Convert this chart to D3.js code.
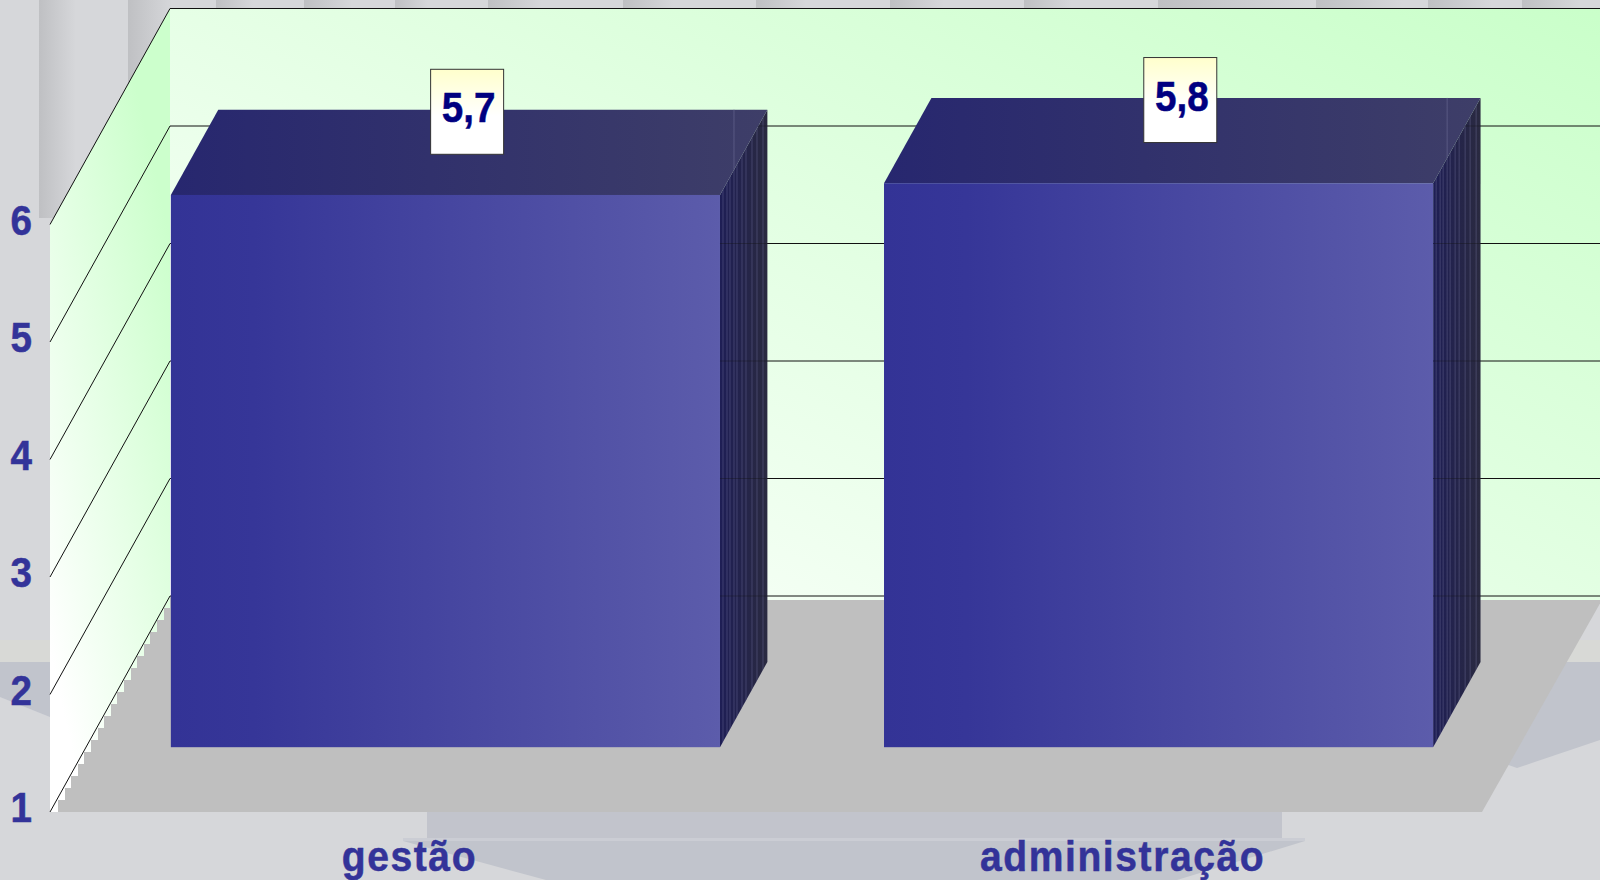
<!DOCTYPE html>
<html>
  <head>
    <meta charset="utf-8">
    <style>
      body { margin: 0; background: #d6d7da; }
      svg { display: block; }
      text { font-family: "Liberation Sans", Arial, sans-serif; font-weight: bold; }
      .tick-label { font-size: 42px; fill: #333399; stroke: #333399; stroke-width: 0.5; }
      .cat-label { font-size: 42px; fill: #333399; stroke: #333399; stroke-width: 0.5; letter-spacing: 1.7px; }
      .value-label { font-size: 42px; fill: #000080; stroke: #000080; stroke-width: 0.5; text-anchor: middle; }
      .grid { fill: none; stroke: #111; stroke-width: 1; }
    </style>
  </head>
  <body>
    <script src="https://d3js.org/d3.v7.min.js"></script>
    <script>
      // data
      var categories = ["gestão", "administração"];
      var values = [5.7, 5.8];
      var valueLabels = ["5,7", "5,8"];
      var yTicks = [1, 2, 3, 4, 5, 6];

      var width = 1600, height = 880;

      // 3d projection: depth 0 is the front of the floor, depth 1 the back wall
      var depthX = 120, depthY = 216;
      var barFront = 0.30, barBack = 0.695;

      var x = d3.scaleBand().domain(categories).range([50, 1482])
          .paddingInner(0.23).paddingOuter(0.119);
      var y = d3.scaleLinear().domain([1, 6]).range([812, 224.5]);

      function px(v, d) { return v + depthX * d; }
      function py(v, d) { return v - depthY * d; }

      var line = d3.line();

      var svg = d3.select("body").append("svg")
          .attr("width", width)
          .attr("height", height);
      var defs = svg.append("defs");

      function gradient(id, a, b, stops) {
          var g = defs.append("linearGradient").attr("id", id)
              .attr("gradientUnits", "userSpaceOnUse")
              .attr("x1", a[0]).attr("y1", a[1])
              .attr("x2", b[0]).attr("y2", b[1]);
          stops.forEach(function(s) {
              g.append("stop").attr("offset", s[0]).attr("stop-color", s[1]);
          });
      }

      // slide template behind the chart
      var bg = svg.append("g");
      bg.append("rect").attr("width", width).attr("height", height).attr("fill", "#d6d7da");

      var columns = [[39, 76, 218], [128, 172, 218], [216, 253, 8], [304, 352, 8], [395, 428, 8],
                     [488, 541, 8], [623, 673, 8], [756, 806, 8], [890, 944, 8], [1024, 1071, 8],
                     [1158, 1314, 8], [1316, 1403, 8], [1428, 1492, 8], [1522, 1580, 8]];
      columns.forEach(function(c, i) {
          gradient("col" + i, [c[0], 0], [c[1], 0], [[0, "#bfc0c3"], [1, "#d6d7da"]]);
          bg.append("rect").attr("x", c[0]).attr("width", c[1] - c[0]).attr("height", c[2])
              .attr("fill", "url(#col" + i + ")");
      });

      var blue = "#c1c4cc";
      bg.append("rect").attr("x", 0).attr("y", 640).attr("width", 50).attr("height", 22).attr("fill", "#d8d9d6");
      bg.append("path").attr("fill", blue)
          .attr("d", line([[0, 662], [50, 662], [50, 717], [0, 697]]) + "Z");
      bg.append("rect").attr("x", 1500).attr("y", 640).attr("width", 100).attr("height", 22).attr("fill", "#d8d9d6");
      bg.append("path").attr("fill", blue)
          .attr("d", line([[1500, 662], [1600, 662], [1600, 740], [1517, 768], [1500, 762]]) + "Z");
      bg.append("rect").attr("x", 427).attr("y", 812).attr("width", 855).attr("height", 27).attr("fill", "#c2c4cc");
      bg.append("rect").attr("x", 403).attr("y", 838).attr("width", 902).attr("height", 3).attr("fill", "#cbcdd4");
      bg.append("path").attr("fill", blue)
          .attr("d", line([[403, 841], [1305, 841], [1177, 880], [546, 880]]) + "Z");

      // walls
      gradient("backWall", [170, 596], [809, -774], [[0, "#ffffff"], [1, "#b8ffb8"]]);
      gradient("sideWall", [60, 698], [264, 652], [[0, "#ffffff"], [1, "#ccffcc"]]);

      var xL = x.range()[0], xR = x.range()[1];
      var yMin = y(yTicks[0]), yMax = y(yTicks[yTicks.length - 1]);

      svg.append("path").attr("fill", "url(#sideWall)")
          .attr("d", line([[xL, yMax], [px(xL, 1), py(yMax, 1)], [px(xL, 1), yMin - 150], [xL + 30, yMin], [xL, yMin]]) + "Z");
      svg.append("path").attr("fill", "url(#backWall)")
          .attr("d", line([[px(xL, 1), py(yMax, 1)], [width, py(yMax, 1)], [width, py(yMin, 1) + 4], [px(xL, 1), py(yMin, 1) + 4]]) + "Z");

      // floor, its left edge is stepped like the original raster
      var stepped = [];
      d3.range(0, 19).forEach(function(i) {
          var sy = yMin - i * 12;
          stepped.push([xL + 8 + i * 6.6, sy], [xL + 8 + i * 6.6, sy - 12]);
      });
      svg.append("path").attr("fill", "#bfbfbf")
          .attr("shape-rendering", "crispEdges")
          .attr("d", line(stepped.concat([[px(xL, 1) + 2, py(yMin, 1) + 4], [px(xL, 1) + 2, yMin]])) + "Z");
      svg.append("path").attr("fill", "#bfbfbf")
          .attr("d", line([[px(xL, 1), py(yMin, 1) + 4], [px(xR, 1), py(yMin, 1) + 4], [xR, yMin], [px(xL, 1), yMin]]) + "Z");

      // gridlines on both walls
      svg.append("g").selectAll("path")
          .data(yTicks)
          .enter().append("path")
          .attr("class", "grid")
          .attr("d", function(d) {
              return line([[xL, y(d)], [px(xL, 1), py(y(d), 1)], [width, py(y(d), 1)]]);
          });

      // bars
      var sideStripes = [3, 7, 10, 14, 17, 22, 26, 32, 37, 43];
      gradient("sideFace", [0, 0], [1, 0], [[0, "#1e1e55"], [1, "#2a2a40"]]);
      defs.select("#sideFace").attr("gradientUnits", "objectBoundingBox");
      gradient("topFace", [0, 0], [1, 0], [[0, "#27276f"], [1, "#3e3e68"]]);
      defs.select("#topFace").attr("gradientUnits", "objectBoundingBox");
      gradient("frontFace", [0, 0], [1, 0], [[0, "#333396"], [0.15, "#363698"], [1, "#5c5cab"]]);
      defs.select("#frontFace").attr("gradientUnits", "objectBoundingBox");

      var bars = svg.append("g").selectAll("g")
          .data(categories)
          .enter().append("g");

      bars.each(function(c, i) {
          var g = d3.select(this);
          var x0 = x(c), x1 = x(c) + x.bandwidth();
          var y0 = y(1), y1 = y(values[i]);
          var sidePts = [[px(x1, barFront), py(y1, barFront)], [px(x1, barBack), py(y1, barBack)],
                         [px(x1, barBack), py(y0, barBack)], [px(x1, barFront), py(y0, barFront)]];
          var topPts = [[px(x0, barFront), py(y1, barFront)], [px(x0, barBack), py(y1, barBack)],
                        [px(x1, barBack), py(y1, barBack)], [px(x1, barFront), py(y1, barFront)]];

          defs.append("clipPath").attr("id", "sideClip" + i)
              .append("path").attr("d", line(sidePts) + "Z");

          g.append("path").attr("d", line(sidePts) + "Z").attr("fill", "url(#sideFace)");

          var inSide = g.append("g").attr("clip-path", "url(#sideClip" + i + ")");
          inSide.selectAll("line.stripe")
              .data(sideStripes)
              .enter().append("line")
              .attr("class", "stripe")
              .attr("x1", function(d) { return px(x1, barFront) + d; })
              .attr("x2", function(d) { return px(x1, barFront) + d; })
              .attr("y1", py(y1, barBack)).attr("y2", py(y0, barFront))
              .attr("stroke", "#6a6a96").attr("stroke-opacity", 0.45);
          // gridlines show faintly through the side
          inSide.selectAll("line.through")
              .data(yTicks)
              .enter().append("line")
              .attr("class", "through")
              .attr("x1", px(x1, barFront)).attr("x2", px(x1, barBack))
              .attr("y1", function(d) { return py(y(d), 1); })
              .attr("y2", function(d) { return py(y(d), 1); })
              .attr("stroke", "#111").attr("stroke-opacity", 0.35);

          g.append("path").attr("d", line(topPts) + "Z").attr("fill", "url(#topFace)");
          g.append("line")
              .attr("x1", px(x1, barFront) + sideStripes[3]).attr("x2", px(x1, barFront) + sideStripes[3])
              .attr("y1", py(y1, barBack))
              .attr("y2", py(y1, barBack) + (depthY / depthX) * (px(x1, barBack) - px(x1, barFront) - sideStripes[3]))
              .attr("stroke", "#6a6a96").attr("stroke-opacity", 0.6);

          g.append("rect")
              .attr("x", px(x0, barFront)).attr("y", py(y1, barFront))
              .attr("width", x.bandwidth()).attr("height", y0 - y1)
              .attr("fill", "url(#frontFace)");
      });

      // value boxes sit on the middle of the top face
      gradient("labelBox", [0, 0], [0, 1], [[0, "#ffffcc"], [0.55, "#ffffff"], [1, "#ffffff"]]);
      defs.select("#labelBox").attr("gradientUnits", "objectBoundingBox");

      var labels = svg.append("g").selectAll("g")
          .data(categories)
          .enter().append("g")
          .attr("transform", function(c, i) {
              var mid = (barFront + barBack) / 2;
              return "translate(" + (px(x(c) + x.bandwidth() / 2, mid) - 2) + "," + (py(y(values[i]), mid) + 2) + ")";
          });
      labels.append("rect")
          .attr("x", -36.5).attr("y", -85).attr("width", 73).attr("height", 85)
          .attr("fill", "url(#labelBox)").attr("stroke", "#333").attr("stroke-width", 1);
      labels.append("text")
          .attr("class", "value-label")
          .attr("transform", "translate(1.5,-32) scale(0.92,1)")
          .text(function(c, i) { return valueLabels[i]; });

      // axis labels
      svg.append("g").selectAll("text")
          .data(yTicks)
          .enter().append("text")
          .attr("class", "tick-label")
          .attr("transform", function(d) { return "translate(32," + (y(d) + 10) + ") scale(0.92,1)"; })
          .attr("text-anchor", "end")
          .text(function(d) { return d; });

      svg.append("g").selectAll("text")
          .data(categories)
          .enter().append("text")
          .attr("class", "cat-label")
          .attr("transform", function(c) { return "translate(" + (x(c) + x.bandwidth() / 2) + ",871) scale(0.93,1)"; })
          .attr("text-anchor", "middle")
          .text(function(c) { return c; });
    </script>
  </body>
</html>
